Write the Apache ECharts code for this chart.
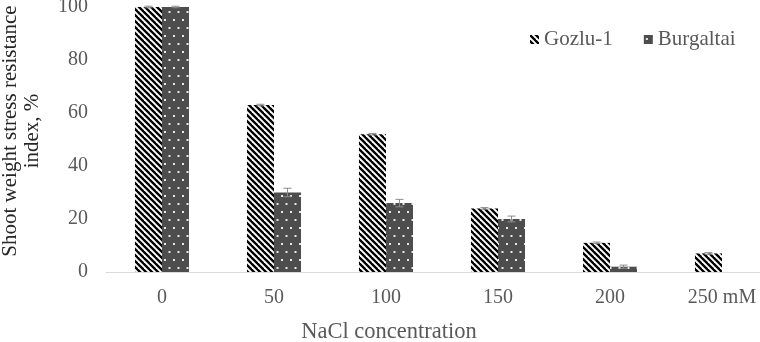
<!DOCTYPE html>
<html><head><meta charset="utf-8">
<script src="https://cdn.jsdelivr.net/npm/echarts@6/dist/echarts.min.js"></script>
<style>html,body{margin:0;padding:0;background:#fff}#c{width:760px;height:342px}</style>
</head><body><div id="c"></div>
<script>
var categories = ['0', '50', '100', '150', '200', '250 mM'];
var gozlu = [100, 63, 52, 24, 11, 7];
var burgaltai = [100, 30, 26, 20, 2, null];
var gozluErr = [0.3, 0.3, 0.3, 0.3, 0.3, 0.3];
var burgErr = [0.3, 1.6, 1.4, 1.1, 0.6, null];
var yTicks = [0, 20, 40, 60, 80, 100];
var yTitle = 'Shoot weight stress resistance\nindex, %';
var xTitle = 'NaCl concentration';

function stripePattern() {
  var c = document.createElement('canvas');
  c.width = 6; c.height = 6;
  var g = c.getContext('2d');
  g.fillStyle = '#fff'; g.fillRect(0, 0, 6, 6);
  g.strokeStyle = '#000'; g.lineWidth = 2.3;
  for (var k = -1; k <= 1; k++) {
    g.beginPath(); g.moveTo(k * 6 - 1, -1); g.lineTo(k * 6 + 7, 7); g.stroke();
  }
  return c;
}
function dotPattern() {
  var c = document.createElement('canvas');
  c.width = 9; c.height = 16;
  var g = c.getContext('2d');
  g.fillStyle = '#4d4d4d'; g.fillRect(0, 0, 9, 16);
  g.fillStyle = '#e8e8e8';
  g.fillRect(2, 3, 2, 2);
  g.fillRect(6.5, 11, 2, 2);
  return c;
}
var pStripe = stripePattern(), pDot = dotPattern();

var chart = echarts.init(document.getElementById('c'));
var font = '"Liberation Serif", "Times New Roman", serif';

function errSeries(vals, errs, side) {
  var data = [];
  for (var i = 0; i < vals.length; i++) {
    if (vals[i] != null && errs[i] != null) data.push([i, vals[i], errs[i]]);
  }
  return {
    type: 'custom', z: 10, silent: true,
    data: data,
    renderItem: function (params, api) {
      var i = api.value(0), v = api.value(1), e = api.value(2);
      var c = api.coord([i, v]);
      var x = c[0] + side * 13.5;
      var top = api.coord([i, v + e])[1];
      var bot = api.coord([i, v - e])[1];
      var st = { stroke: '#8c8c8c', lineWidth: 1 };
      return { type: 'group', children: [
        { type: 'line', shape: { x1: x, y1: top, x2: x, y2: bot }, style: st },
        { type: 'line', shape: { x1: x - 4, y1: top, x2: x + 4, y2: top }, style: st },
        { type: 'line', shape: { x1: x - 4, y1: bot, x2: x + 4, y2: bot }, style: st }
      ]};
    }
  };
}

chart.setOption({
  animation: false,
  backgroundColor: '#fff',
  grid: { left: 106, right: -18, top: 7, bottom: 70, outerBoundsMode: 'none', containLabel: false },
  legend: {
    top: 24, left: 525, itemWidth: 9, itemHeight: 9, itemGap: 31,
    icon: 'rect',
    textStyle: { fontFamily: font, fontSize: 21, color: '#595959' },
    data: ['Gozlu-1', 'Burgaltai']
  },
  graphic: [
    { type: 'text', x: 389, y: 332,
      style: { text: xTitle, fontFamily: font, fontSize: 22.5, fill: '#595959', align: 'center', verticalAlign: 'middle' } },
    { type: 'text', x: 21, y: 131, rotation: Math.PI / 2,
      style: { text: yTitle, fontFamily: font, fontSize: 21, lineHeight: 22, fill: '#262626', align: 'center', verticalAlign: 'middle' } }
  ],
  xAxis: {
    type: 'category', data: categories,
    axisLine: { lineStyle: { color: '#d9d9d9', width: 1 } },
    axisTick: { show: false },
    axisLabel: { fontFamily: font, fontSize: 20, color: '#595959', margin: 16 }
  },
  yAxis: {
    type: 'value', min: 0, max: 100, interval: 20,
    axisLine: { show: false }, axisTick: { show: false },
    splitLine: { show: false },
    axisLabel: { fontFamily: font, fontSize: 20, color: '#595959', margin: 18,
      formatter: function (v) { return yTicks.indexOf(v) >= 0 ? String(v) : ''; } }
  },
  series: [
    { name: 'Gozlu-1', type: 'bar', data: gozlu, barWidth: 27, barGap: '0%',
      itemStyle: { color: { image: pStripe, repeat: 'repeat' } } },
    { name: 'Burgaltai', type: 'bar', data: burgaltai, barWidth: 27, barGap: '0%',
      itemStyle: { color: { image: pDot, repeat: 'repeat' } } },
    errSeries(gozlu, gozluErr, -1),
    errSeries(burgaltai, burgErr, 1)
  ]
});
</script></body></html>
